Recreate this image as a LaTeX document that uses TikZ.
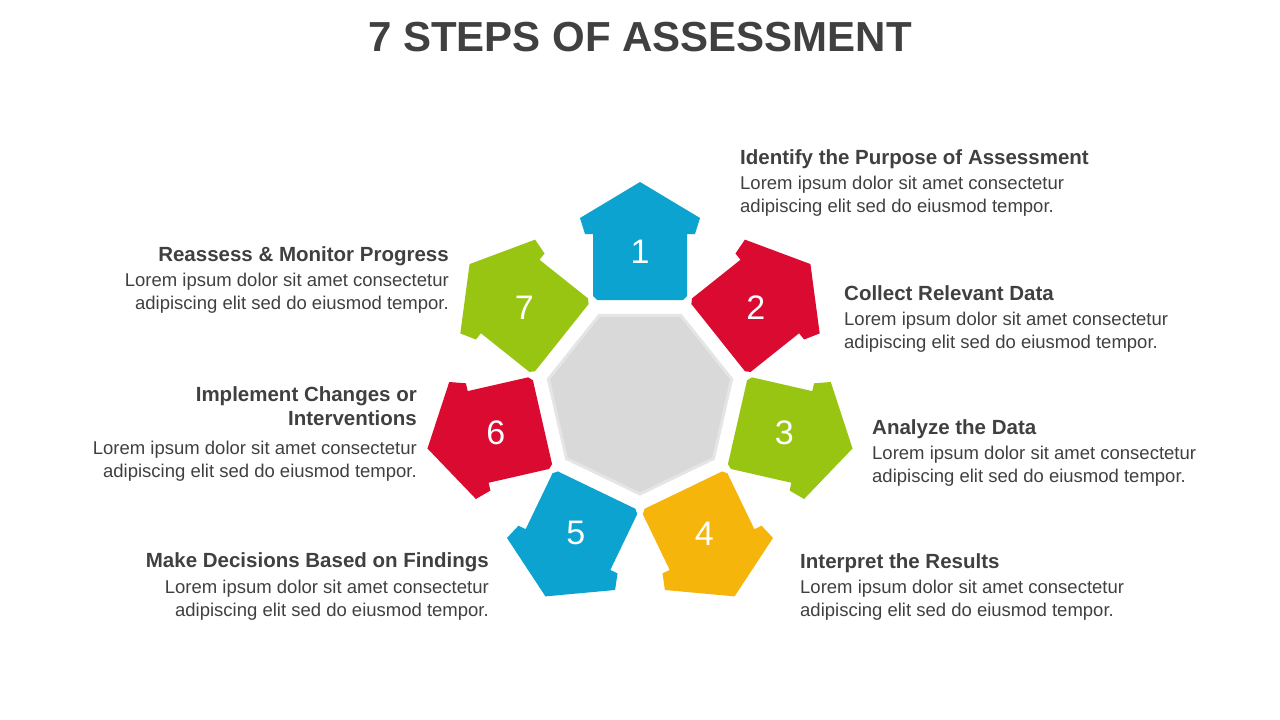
\documentclass[tikz,border=0pt]{standalone}
\usepackage{fontspec}
\setmainfont{Liberation Sans}
\definecolor{cblue}{RGB}{12,163,208}
\definecolor{cred}{RGB}{218,10,48}
\definecolor{cgreen}{RGB}{152,196,18}
\definecolor{cyellow}{RGB}{246,181,10}
\definecolor{cgrey}{RGB}{217,217,217}
\definecolor{ctext}{RGB}{64,64,64}
\tikzset{
 head/.style={font=\fontsize{20.5}{24}\selectfont\bfseries, text=ctext, inner sep=0pt},
 body/.style={font=\fontsize{18.5}{23}\selectfont, text=ctext, inner sep=0pt},
 num/.style={font=\fontsize{34}{34}\selectfont, text=white, inner sep=0pt},
}
\begin{document}
\begin{tikzpicture}[x=1pt,y=1pt]
\useasboundingbox (0,-720) rectangle (1280,0);
\node[font=\fontsize{42}{42}\selectfont\bfseries, text=ctext] (title) at (640,-37) {7 STEPS OF ASSESSMENT};
\begin{scope}[shift={(640,-400)}]
\fill[cgrey, draw=white!90!black, line width=3pt] (90+25.714:94)
  \foreach \k in {1,...,6} { -- ({90+25.714+\k*51.4286}:94) } -- cycle;
\foreach \k/\c in {0/cblue,1/cred,2/cgreen,3/cyellow,4/cblue,5/cred,6/cgreen}{
  \begin{scope}[rotate={-\k*51.4286}]
  \fill[\c] (-43,100) -- (43,100) -- (47,104) -- (47,166) -- (55,166) -- (60,182)
     -- (0,218) -- (-60,182) -- (-55,166) -- (-47,166) -- (-47,104) -- cycle;
  \end{scope}
  \pgfmathtruncatemacro{\n}{\k+1}
  \node[num] (n\n) at ({90-\k*51.4286}:148) {\n};
}
\end{scope}
% texts
\node[head, anchor=base west] (h1) at (740,-164) {Identify the Purpose of Assessment};
\node[body, anchor=north west, align=left] (b1) at (740,-176) {Lorem ipsum dolor sit amet consectetur\\adipiscing elit sed do eiusmod tempor.};
\node[head, anchor=base west] (h2) at (844,-300) {Collect Relevant Data};
\node[body, anchor=north west, align=left] (b2) at (844,-312) {Lorem ipsum dolor sit amet consectetur\\adipiscing elit sed do eiusmod tempor.};
\node[head, anchor=base west] (h3) at (872,-434) {Analyze the Data};
\node[body, anchor=north west, align=left] (b3) at (872,-446) {Lorem ipsum dolor sit amet consectetur\\adipiscing elit sed do eiusmod tempor.};
\node[head, anchor=base west] (h4) at (800,-568) {Interpret the Results};
\node[body, anchor=north west, align=left] (b4) at (800,-580) {Lorem ipsum dolor sit amet consectetur\\adipiscing elit sed do eiusmod tempor.};
\node[head, anchor=base east] (h5) at (489,-567) {Make Decisions Based on Findings};
\node[body, anchor=north east, align=right] (b5) at (489,-580) {Lorem ipsum dolor sit amet consectetur\\adipiscing elit sed do eiusmod tempor.};
\node[head, anchor=north east, align=right, font=\fontsize{20.5}{24}\selectfont\bfseries] (h6) at (417,-386) {Implement Changes or\\Interventions};
\node[body, anchor=north east, align=right] (b6) at (417,-441) {Lorem ipsum dolor sit amet consectetur\\adipiscing elit sed do eiusmod tempor.};
\node[head, anchor=base east] (h7) at (449,-261) {Reassess \& Monitor Progress};
\node[body, anchor=north east, align=right] (b7) at (449,-273) {Lorem ipsum dolor sit amet consectetur\\adipiscing elit sed do eiusmod tempor.};
\end{tikzpicture}
\end{document}
